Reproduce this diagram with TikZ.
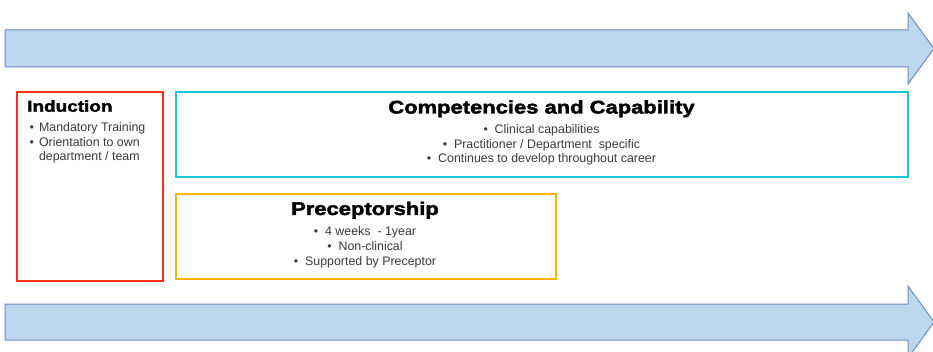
\documentclass[tikz,border=0pt]{standalone}
\usepackage{fontspec}
\setmainfont{Liberation Sans}
\newfontfamily\headfont[FakeBold=2.2,FakeStretch=1.2]{Liberation Sans Bold}
\definecolor{arrowfill}{HTML}{BDD7EE}
\definecolor{arrowline}{HTML}{6C8EBF}
\definecolor{redbox}{HTML}{FF2E17}
\definecolor{cyanbox}{HTML}{1BC9D6}
\definecolor{orangebox}{HTML}{FFB300}
\definecolor{bodytext}{HTML}{3A3A3A}
\tikzset{
  bigarrow/.style={fill=arrowfill, draw=arrowline, line width=1pt, line join=miter},
  framebox/.style={draw=#1, line width=2.2pt, fill=white, inner sep=0pt},
  title/.style={inner sep=0pt, font=\headfont\fontsize{18.3}{20}\selectfont, text=black},
  smalltitle/.style={inner sep=0pt, font=\headfont\fontsize{15.8}{18}\selectfont, text=black},
  bullets/.style={inner sep=0pt, font=\fontsize{12.4}{14.7}\selectfont, text=bodytext}
}
\begin{document}
\begin{tikzpicture}[x=1pt,y=-1pt]
\useasboundingbox (0,0) rectangle (933,352);
\clip (0,0) rectangle (933,352);
% arrows
\draw[bigarrow] (5,30) -- (908,30) -- (908,13) -- (934,48.5) -- (908,84) -- (908,67) -- (5,67) -- cycle;
\draw[bigarrow] (5,304) -- (908,304) -- (908,286) -- (934,322) -- (908,358) -- (908,340) -- (5,340) -- cycle;
% boxes
\node[framebox=redbox, minimum width=146pt, minimum height=189pt, anchor=north west] (ind) at (16,91) {};
\node[framebox=cyanbox, minimum width=732pt, minimum height=85pt, anchor=north west] (comp) at (175,91) {};
\node[framebox=orangebox, minimum width=380pt, minimum height=85pt, anchor=north west] (prec) at (175,193) {};
% texts
\node[smalltitle, anchor=base west] (indt) at (27,111.7) {Induction};
\node[bullets, anchor=base west] (indb) at (29.5,131.5) {%
  \begin{tabular}[t]{@{}l@{\hspace{5pt}}l@{}}
  \textbullet & Mandatory Training\\
  \textbullet & Orientation to own\\
   & department / team
  \end{tabular}};
\node[title, anchor=base] (compt) at (541.5,113.5) {Competencies and Capability};
\node[bullets, anchor=base] (compb) at (541.5,133.5) {%
  \begin{tabular}[t]{@{}c@{}}
  \textbullet\ \ Clinical capabilities\\
  \textbullet\ \ Practitioner / Department\ \ specific\\
  \textbullet\ \ Continues to develop throughout career
  \end{tabular}};
\node[title, anchor=base] (prect) at (365,215) {Preceptorship};
\node[bullets, anchor=base] (precb) at (365,235.8) {%
  \begin{tabular}[t]{@{}c@{}}
  \textbullet\ \ 4 weeks\ \ - 1year\\
  \textbullet\ \ Non-clinical\\
  \textbullet\ \ Supported by Preceptor
  \end{tabular}};
\end{tikzpicture}
\end{document}
